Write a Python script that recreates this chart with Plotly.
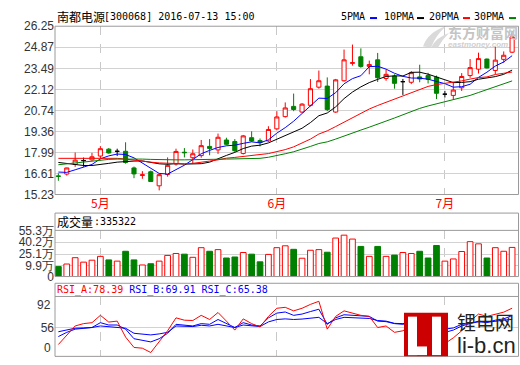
import plotly.graph_objects as go

dates = ['2016-04-25', '2016-04-26', '2016-04-27', '2016-04-28', '2016-04-29',
         '2016-05-03', '2016-05-04', '2016-05-05', '2016-05-06', '2016-05-09', '2016-05-10',
         '2016-05-11', '2016-05-12', '2016-05-13', '2016-05-16', '2016-05-17', '2016-05-18',
         '2016-05-19', '2016-05-20', '2016-05-23', '2016-05-24', '2016-05-25', '2016-05-26',
         '2016-05-27', '2016-05-30', '2016-05-31',
         '2016-06-01', '2016-06-02', '2016-06-03', '2016-06-06', '2016-06-07', '2016-06-08',
         '2016-06-13', '2016-06-14', '2016-06-15', '2016-06-16', '2016-06-17', '2016-06-20',
         '2016-06-21', '2016-06-22', '2016-06-23', '2016-06-24', '2016-06-27', '2016-06-28',
         '2016-06-29', '2016-06-30',
         '2016-07-01', '2016-07-04', '2016-07-05', '2016-07-06', '2016-07-07', '2016-07-08',
         '2016-07-11', '2016-07-12', '2016-07-13']

opens = [16.45, 16.57, 17.20, 17.45, 17.50, 17.75, 18.20, 18.06, 18.06, 16.97, 16.48,
         16.72, 15.80, 16.54, 17.23, 18.00, 17.64, 17.78, 18.38, 18.15, 18.80, 18.70,
         17.92, 18.95, 18.76, 18.74, 19.53, 20.33, 21.00, 20.63, 21.07, 22.26, 22.33,
         20.63, 22.68, 23.82, 24.25, 23.62, 24.05, 22.83, 22.99, 22.62, 22.58, 22.93,
         23.02, 22.91, 21.80, 21.72, 22.22, 23.02, 23.44, 24.10, 23.35, 24.08, 24.55]
highs = [16.62, 16.99, 17.98, 17.65, 17.96, 18.40, 18.27, 18.23, 18.65, 17.06, 16.76,
         16.80, 16.60, 17.66, 18.23, 18.27, 18.18, 18.80, 18.86, 19.22, 18.95, 18.86,
         19.13, 19.37, 18.90, 19.70, 20.69, 21.26, 21.84, 21.21, 22.79, 23.35, 22.90,
         22.80, 24.72, 25.05, 24.80, 24.00, 24.50, 23.42, 23.10, 22.80, 23.31, 23.73,
         23.20, 23.02, 22.02, 22.60, 23.18, 24.10, 24.52, 24.13, 24.91, 24.60, 25.92]
lows = [16.13, 16.47, 17.04, 17.05, 17.43, 17.62, 17.90, 17.75, 17.25, 16.30, 16.26,
        16.06, 15.50, 16.40, 17.12, 17.66, 17.23, 17.64, 17.80, 17.89, 18.45, 18.02,
        17.85, 18.69, 18.38, 18.68, 19.43, 20.27, 20.69, 20.58, 21.00, 22.16, 20.69,
        20.58, 22.62, 23.67, 23.53, 23.10, 22.60, 22.68, 22.16, 21.75, 22.46, 22.58,
        22.50, 21.48, 21.58, 21.45, 22.01, 22.87, 23.15, 23.48, 23.10, 23.86, 24.49]
closes = [16.42, 16.97, 17.48, 17.45, 17.70, 18.23, 17.95, 18.06, 17.33, 16.58, 16.52,
          16.08, 16.53, 17.14, 18.05, 17.97, 17.90, 18.43, 18.25, 18.98, 18.52, 18.10,
          19.07, 18.74, 18.63, 19.49, 20.31, 20.90, 20.80, 21.15, 22.16, 22.68, 20.79,
          22.74, 24.05, 23.86, 23.62, 23.74, 22.88, 23.10, 22.51, 22.62, 23.21, 22.80,
          22.78, 21.86, 21.80, 22.07, 22.96, 23.54, 24.13, 23.52, 24.03, 24.35, 25.55]

volumes = [90000, 123000, 204000, 147000, 172000, 221000, 176000, 160000, 286000, 176000,
           111000, 127000, 160000, 233000, 258000, 249000, 209000, 332000, 286000, 307000,
           200000, 213000, 270000, 249000, 151000, 246000, 332000, 356000, 311000, 197000,
           299000, 307000, 274000, 455000, 492000, 442000, 348000, 221000, 348000, 221000,
           237000, 270000, 258000, 286000, 200000, 360000, 160000, 188000, 283000, 409000,
           381000, 200000, 332000, 286000, 335322]

ma5 = [16.70, 16.68, 16.85, 17.05, 17.20, 17.57, 17.76, 17.88, 17.85, 17.63, 17.29, 16.91,
       16.61, 16.57, 16.86, 17.15, 17.52, 17.90, 18.12, 18.31, 18.42, 18.46, 18.58, 18.68,
       18.61, 18.81, 19.25, 19.61, 20.03, 20.53, 21.06, 21.54, 21.52, 21.90, 22.48, 22.82,
       23.01, 23.60, 23.63, 23.44, 23.17, 22.97, 22.86, 22.85, 22.78, 22.65, 22.49, 22.26,
       22.29, 22.45, 22.90, 23.24, 23.64, 23.91, 24.32]
ma10 = [17.33, 17.25, 17.18, 17.13, 17.13, 17.18, 17.27, 17.35, 17.40, 17.42, 17.43, 17.34,
        17.24, 17.21, 17.25, 17.22, 17.22, 17.25, 17.35, 17.59, 17.79, 17.99, 18.24, 18.40,
        18.46, 18.61, 18.85, 19.10, 19.35, 19.57, 19.94, 20.39, 20.57, 20.97, 21.51, 21.94,
        22.28, 22.56, 22.77, 22.96, 23.00, 22.99, 23.23, 23.24, 23.11, 22.91, 22.73, 22.56,
        22.57, 22.62, 22.78, 22.87, 22.95, 23.10, 23.38]
ma20 = [17.60, 17.60, 17.61, 17.62, 17.62, 17.62, 17.61, 17.60, 17.55, 17.47, 17.40, 17.35,
        17.30, 17.27, 17.25, 17.24, 17.27, 17.33, 17.42, 17.50, 17.61, 17.66, 17.74, 17.80,
        17.85, 17.91, 18.03, 18.17, 18.35, 18.58, 18.86, 19.19, 19.40, 19.68, 19.98, 20.28,
        20.56, 20.83, 21.06, 21.27, 21.47, 21.70, 21.90, 22.11, 22.31, 22.43, 22.50, 22.56,
        22.67, 22.79, 22.89, 22.93, 23.09, 23.17, 23.25]
ma30 = [17.18, 17.24, 17.30, 17.37, 17.43, 17.50, 17.53, 17.55, 17.56, 17.56, 17.55, 17.53,
        17.51, 17.50, 17.50, 17.50, 17.50, 17.51, 17.52, 17.54, 17.55, 17.56, 17.57, 17.58,
        17.60, 17.67, 17.77, 17.90, 18.03, 18.19, 18.38, 18.57, 18.68, 18.86, 19.07, 19.26,
        19.45, 19.64, 19.82, 20.04, 20.24, 20.46, 20.68, 20.87, 21.03, 21.16, 21.29, 21.41,
        21.57, 21.72, 21.91, 22.09, 22.26, 22.44, 22.67]

rsi_a = [36.3, 46.6, 57.8, 60.5, 61.6, 70.1, 62.3, 63.4, 44.9, 32.9, 32.0, 27.0, 39.3, 52.2,
         67.2, 64.5, 64.1, 70.1, 65.3, 73.4, 63.4, 53.0, 66.0, 60.5, 56.7, 68.9, 78.3, 79.4,
         75.3, 78.3, 82.8, 86.4, 54.1, 68.9, 75.3, 72.7, 70.1, 68.9, 56.0, 57.8, 50.4, 52.2,
         58.0, 53.0, 52.5, 40.0, 37.4, 44.0, 52.2, 63.4, 71.6, 68.9, 71.6, 73.8, 78.39]
rsi_b = [45.5, 50.4, 54.1, 55.2, 56.0, 61.6, 58.9, 58.9, 54.1, 43.0, 41.1, 39.3, 43.0, 49.3,
         59.7, 58.6, 57.8, 60.5, 59.7, 65.3, 60.5, 56.0, 61.6, 58.9, 57.8, 67.2, 72.7, 74.0,
         70.1, 71.6, 74.5, 77.2, 59.7, 67.2, 70.8, 70.0, 69.0, 68.9, 63.4, 62.8, 60.5, 59.7,
         62.0, 59.5, 59.0, 52.0, 50.4, 53.0, 57.8, 61.0, 63.4, 62.0, 64.5, 66.0, 69.91]
rsi_c = [51.1, 53.0, 55.2, 55.5, 56.0, 57.8, 57.1, 56.7, 55.2, 49.3, 48.6, 47.4, 48.6, 50.4,
         57.8, 57.1, 57.1, 58.6, 57.8, 59.7, 57.8, 56.0, 58.9, 57.8, 57.1, 62.5, 65.3, 66.0,
         65.3, 65.8, 66.7, 67.8, 60.5, 65.3, 67.8, 67.3, 66.8, 66.5, 64.1, 63.4, 60.8, 60.5,
         62.0, 60.8, 60.5, 56.0, 54.1, 55.5, 59.7, 61.0, 62.5, 62.0, 63.5, 64.5, 65.38]

price_ticks = [15.23, 16.6075, 17.985, 19.3625, 20.74, 22.1175, 23.495, 24.8725, 26.25]
price_tick_labels = ['15.23', '16.61', '17.99', '19.36', '20.74', '22.12', '23.49', '24.87', '26.25']
# the volume panel's bottom edge sits a little below zero and is labelled "0",
# bars rise from that bottom edge as in the source chart
VOL_AXIS_MIN = -37000
VOL_AXIS_MAX = 553000
vol_ticks = [VOL_AXIS_MIN, 99000, 251000, 402000, 553000]
vol_tick_labels = ['0', '9.9万', '25.1万', '40.2万', '55.3万']
RSI_AXIS_MIN = 22.55
RSI_AXIS_MAX = 92
rsi_ticks = [56]
rsi_tick_labels = ['56']
month_ticks = ['2016-05-03', '2016-06-01', '2016-07-01']
month_labels = ['5月', '6月', '7月']

RED = '#ff0000'
GREEN = '#008000'
BLUE = '#0000ff'
FRAME = '#9a9a9a'
GRID = '#d2d2d2'
W, H = 520, 365


def px(x):
    return x / W


def py(y):
    return 1 - y / H


n = len(dates)
up = [i for i in range(n) if closes[i] > opens[i]]
down = [i for i in range(n) if closes[i] < opens[i]]
flat = [i for i in range(n) if closes[i] == opens[i]]


def sub(arr, idx):
    return [arr[i] for i in idx]


fig = go.Figure()

for idx, inc, dec, fill_i, fill_d in [
        (up, RED, RED, 'white', 'white'),
        (down, GREEN, GREEN, GREEN, GREEN),
        (flat, 'black', 'black', 'black', 'black')]:
    fig.add_trace(go.Candlestick(
        x=sub(dates, idx), open=sub(opens, idx), high=sub(highs, idx),
        low=sub(lows, idx), close=sub(closes, idx),
        increasing=dict(line=dict(color=inc, width=1), fillcolor=fill_i),
        decreasing=dict(line=dict(color=dec, width=1), fillcolor=fill_d),
        xaxis='x', yaxis='y', hoverinfo='skip'))

for vals, col in [(ma5, BLUE), (ma10, 'black'), (ma20, RED), (ma30, GREEN)]:
    fig.add_trace(go.Scatter(x=dates, y=vals, mode='lines',
                             line=dict(color=col, width=1), xaxis='x', yaxis='y'))

bar_fill = [('white' if closes[i] >= opens[i] else GREEN) for i in range(n)]
bar_line = [(RED if closes[i] >= opens[i] else GREEN) for i in range(n)]
fig.add_trace(go.Bar(x=dates, y=[v - VOL_AXIS_MIN for v in volumes], base=VOL_AXIS_MIN,
                     width=0.68,
                     marker=dict(color=bar_fill, line=dict(color=bar_line, width=1)),
                     xaxis='x2', yaxis='y2'))

for vals, col in [(rsi_c, BLUE), (rsi_b, BLUE), (rsi_a, RED)]:
    fig.add_trace(go.Scatter(x=dates, y=vals, mode='lines',
                             line=dict(color=col, width=1), xaxis='x3', yaxis='y3'))

x_dom = [px(55), px(518)]
xcommon = dict(domain=x_dom, type='category', categoryorder='array', categoryarray=dates,
               range=[-0.4, 54.7], tickvals=month_ticks, ticktext=month_labels,
               showgrid=True, gridcolor='#c8c8c8', griddash='dash', gridwidth=1,
               ticks='', zeroline=False, showline=False, fixedrange=True)
tickfont = dict(family='Liberation Sans, Arial, sans-serif', size=12, color='#333333')

fig.update_layout(
    width=W, height=H, margin=dict(l=0, r=0, t=0, b=0),
    paper_bgcolor='white', plot_bgcolor='white', showlegend=False,
    barmode='overlay', boxmode='overlay',
    xaxis=dict(**xcommon, anchor='y', rangeslider=dict(visible=False),
               tickfont=dict(family='Noto Sans CJK SC', size=12, color=RED)),
    xaxis2=dict(**xcommon, anchor='y2', showticklabels=False),
    xaxis3=dict(**xcommon, anchor='y3', showticklabels=False),
    yaxis=dict(domain=[py(195), py(20)], range=[15.23, 26.25], tickvals=price_ticks,
               ticktext=price_tick_labels, tickfont=tickfont, showgrid=True,
               gridcolor=GRID, zeroline=False, ticks='', fixedrange=True),
    yaxis2=dict(domain=[py(280.3), py(232.3)], range=[VOL_AXIS_MIN, VOL_AXIS_MAX],
                tickvals=vol_ticks, ticktext=vol_tick_labels, tickfont=tickfont,
                showgrid=True, gridcolor=GRID, zeroline=False, ticks='', fixedrange=True),
    yaxis3=dict(domain=[py(363.3), py(301)], range=[RSI_AXIS_MIN, RSI_AXIS_MAX],
                tickvals=rsi_ticks, ticktext=rsi_tick_labels, tickfont=tickfont,
                showgrid=True, gridcolor=GRID, zeroline=False, ticks='', fixedrange=True),
)

shapes = []
# eastmoney watermark swoosh
for pts in [[(423, 41), (428, 26), (446, 20), (436, 29), (431, 42)],
            [(431, 42), (437, 31), (449, 27), (442, 34), (438, 42)]]:
    (a, b), (c, d), (e, f), (g, h), (k, m) = pts
    path = 'M %f,%f Q %f,%f %f,%f Q %f,%f %f,%f Z' % (
        px(a), py(b), px(c), py(d), px(e), py(f), px(g), py(h), px(k), py(m))
    shapes.append(dict(type='path', xref='paper', yref='paper', path=path,
                       fillcolor='#dadada', line=dict(width=0), layer='above'))
# panel frames
for (y0, y1) in [(20, 195), (214.3, 280.3), (287.3, 363.3)]:
    shapes.append(dict(type='rect', xref='paper', yref='paper', x0=px(55), x1=px(518.5),
                       y0=py(y1), y1=py(y0), line=dict(color=FRAME, width=1),
                       fillcolor='rgba(0,0,0,0)', layer='above'))
for ysep in [232.3, 301]:
    shapes.append(dict(type='line', xref='paper', yref='paper', x0=px(55), x1=px(518.5),
                       y0=py(ysep), y1=py(ysep), line=dict(color=FRAME, width=1),
                       layer='above'))
# legend swatches
for x0, col in [(370, BLUE), (417, 'black'), (463, RED), (509, GREEN)]:
    shapes.append(dict(type='line', xref='paper', yref='paper', x0=px(x0), x1=px(x0 + 7),
                       y0=py(11.5), y1=py(11.5), line=dict(color=col, width=2)))
# li-b.cn logo block
shapes.append(dict(type='rect', xref='paper', yref='paper', x0=px(404), x1=px(448),
                   y0=py(363.3), y1=py(318), line=dict(width=0), fillcolor='#cc0000',
                   layer='above'))
for (a, b, c, d) in [(408, 417, 322, 362), (408, 427, 353, 362), (432, 441, 322, 362)]:
    shapes.append(dict(type='rect', xref='paper', yref='paper', x0=px(a), x1=px(b),
                       y0=py(d), y1=py(c), line=dict(width=0), fillcolor='white',
                       layer='above'))
fig.update_layout(shapes=shapes)

cjk = 'Noto Sans CJK SC'
mono = 'DejaVu Sans Mono'
ann = []


def add_text(text, x, y, family, size, color='black', xanchor='left', yanchor='middle',
             bold=False):
    ann.append(dict(text=('<b>%s</b>' % text) if bold else text, xref='paper',
                    yref='paper', x=px(x), y=py(y), xanchor=xanchor, yanchor=yanchor,
                    showarrow=False, font=dict(family=family, size=size, color=color),
                    borderpad=0))


add_text('南都电源', 56, 10, cjk, 12)
add_text('[300068] 2016-07-13 15:00', 103, 10, mono, 10)
for label, x in [('5PMA', 340), ('10PMA', 383), ('20PMA', 428), ('30PMA', 473)]:
    add_text(label, x, 10, mono, 10)
add_text('成交量', 56, 223, cjk, 12)
add_text(':' + str(volumes[-1]), 93, 223, mono, 10)
add_text('<span style="color:#ff0000">RSI_A:%.2f</span> '
         '<span style="color:#0000ff">RSI_B:%.2f</span> '
         '<span style="color:#0000ff">RSI_C:%.2f</span>' % (rsi_a[-1], rsi_b[-1], rsi_c[-1]),
         56, 294, mono, 10)
# RSI extreme labels drawn inside the panel
add_text('92', 52, 302, 'Liberation Sans, Arial, sans-serif', 12, '#333333',
         xanchor='right', yanchor='top')
add_text('0', 52, 362.5, 'Liberation Sans, Arial, sans-serif', 12, '#333333',
         xanchor='right', yanchor='bottom')
# watermarks
add_text('东方财富网', 447, 26.5, cjk, 14, '#c4c4c4', bold=True)
add_text('<i>eastmoney.com</i>', 447, 39.5, 'Liberation Sans, Arial', 8, '#d0d0d0', bold=True)
add_text('锂电网', 456, 327, cjk, 19, '#222222')
add_text('li-b.cn', 456, 352, 'Liberation Sans, Arial', 22, '#222222')
fig.update_layout(annotations=ann)

fig.write_html('out.html', config={'displayModeBar': False},
               post_script="document.body.style.margin='0';document.body.style.padding='0';"
                           "document.body.style.overflow='hidden';")
